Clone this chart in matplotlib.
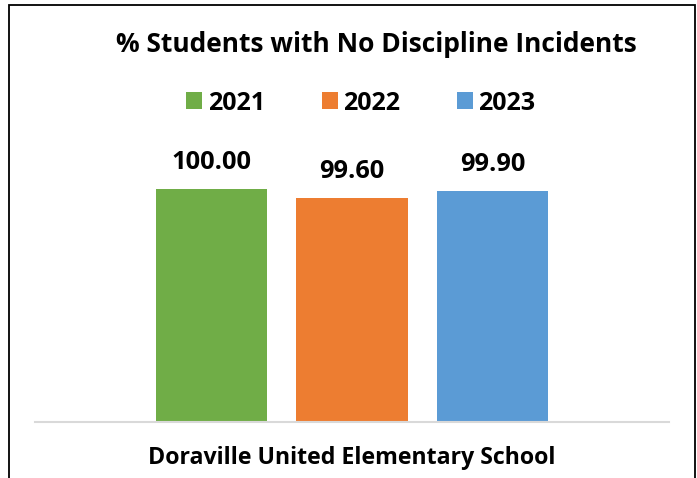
import matplotlib
matplotlib.use("Agg")
import matplotlib.pyplot as plt
from matplotlib.patches import Rectangle, Patch

# data
school = "Doraville United Elementary School"
years = ["2021", "2022", "2023"]
values = [100.00, 99.60, 99.90]
colors = ["#70AD47", "#ED7D31", "#5B9BD5"]
title = "% Students with No Discipline Incidents"

plt.rcParams['font.family'] = ['Open Sans', 'DejaVu Sans']

W, H = 697, 478
fig = plt.figure(figsize=(W / 100, H / 100), dpi=100)

# plot area in pixels: baseline at y=422, x from 35 to 669
ax = fig.add_axes([35 / W, 1 - 422 / H, (669 - 35) / W, (422 - 189) / H])

xs = list(range(len(years)))
bars = ax.bar(xs, values, width=0.79, color=colors, zorder=2)
for x, v in zip(xs, values):
    ax.annotate(f"{v:.2f}", (x, v), xytext=(0, 14.4), textcoords="offset points",
                ha="center", va="baseline", fontsize=18.3, fontweight="bold",
                annotation_clip=False)

ax.set_xlim(-1.256, 3.256)
ax.set_ylim(89.65, 100)
for s in ["top", "right", "left"]:
    ax.spines[s].set_visible(False)
ax.spines["bottom"].set_color("#D9D9D9")
ax.spines["bottom"].set_linewidth(1.5)
ax.set_yticks([])
ax.set_xticks([])

fig.text(352 / W, 1 - 458 / H, school, ha="center", va="center",
         fontsize=16.7, fontweight="bold")
fig.text(376 / W, 1 - 45 / H, title, ha="center", va="center",
         fontsize=19, fontweight="bold")

handles = [Patch(facecolor=c, edgecolor="none") for c in colors]
fig.legend(handles, years, loc="center", bbox_to_anchor=(361 / W, 1 - 103 / H),
           ncol=3, frameon=False, handlelength=0.64, handleheight=0.64,
           handletextpad=0.24, columnspacing=2.24, borderpad=0,
           prop={"size": 18, "weight": "bold"})

# outer border, running off the bottom edge
fig.patches.append(Rectangle((9 / W, -0.05), (695 - 9) / W, 1.05 - 5 / H,
                             transform=fig.transFigure, fill=False,
                             edgecolor="black", linewidth=1.3))

fig.savefig("out.png", dpi=100)
